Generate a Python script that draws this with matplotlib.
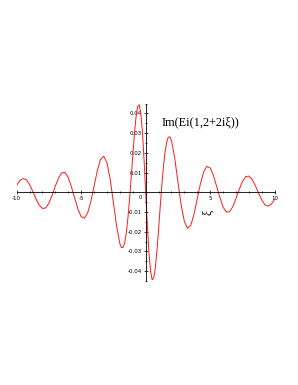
import matplotlib
matplotlib.use("Agg")
import matplotlib.pyplot as plt
from matplotlib.ticker import FixedLocator, MultipleLocator

plt.rcParams['axes.unicode_minus'] = False

# values: Im(Ei(1, 2+2i xi))
xi = [-10.0, -9.75, -9.5, -9.25, -9.0, -8.75, -8.5, -8.25, -8.0, -7.75,
      -7.5, -7.25, -7.0, -6.75, -6.5, -6.25, -6.0, -5.75, -5.5, -5.25,
      -5.0, -4.75, -4.5, -4.25, -4.0, -3.75, -3.5, -3.25, -3.0, -2.75,
      -2.5, -2.25, -2.0, -1.875, -1.75, -1.625, -1.5, -1.375, -1.25, -1.125,
      -1.0, -0.875, -0.75, -0.625, -0.5, -0.375, -0.25, -0.125, 0.0,
      0.125, 0.25, 0.375, 0.5, 0.625, 0.75, 0.875, 1.0,
      1.125, 1.25, 1.375, 1.5, 1.625, 1.75, 1.875, 2.0, 2.25, 2.5,
      2.75, 3.0, 3.25, 3.5, 3.75, 4.0, 4.25, 4.5, 4.75, 5.0,
      5.25, 5.5, 5.75, 6.0, 6.25, 6.5, 6.75, 7.0, 7.25, 7.5,
      7.75, 8.0, 8.25, 8.5, 8.75, 9.0, 9.25, 9.5, 9.75, 10.0]

im_ei = [0.00358, 0.00594, 0.00701, 0.00642, 0.00392, 0.00041, -0.00340, -0.00657, -0.00823, -0.00792,
         -0.00547, -0.00147, 0.00318, 0.00734, 0.00988, 0.01002, 0.00754, 0.00261, -0.00301, -0.00859,
         -0.01235, -0.01316, -0.01047, -0.00462, 0.00318, 0.01100, 0.01670, 0.01836, 0.01490, 0.00649,
         -0.00524, -0.01737, -0.02615, -0.02815, -0.02793, -0.02538, -0.02033, -0.01296, -0.00351, 0.00740,
         0.01864, 0.02944, 0.03811, 0.04356, 0.04443, 0.03987, 0.03038, 0.01637, 0.0,
         -0.01637, -0.03038, -0.03987, -0.04443, -0.04356, -0.03811, -0.02944, -0.01864,
         -0.00740, 0.00351, 0.01296, 0.02033, 0.02538, 0.02793, 0.02815, 0.02615, 0.01737, 0.00524,
         -0.00649, -0.01490, -0.01836, -0.01670, -0.01100, -0.00318, 0.00462, 0.01047, 0.01316, 0.01235,
         0.00859, 0.00301, -0.00261, -0.00754, -0.01002, -0.00988, -0.00734, -0.00318, 0.00147, 0.00547,
         0.00792, 0.00823, 0.00657, 0.00340, -0.00041, -0.00392, -0.00642, -0.00701, -0.00594, -0.00358]

x_ticks = [-10, -5, 5, 10]
x_tick_labels = ['-10', '-5', '5', '10']
y_ticks = [-0.04, -0.03, -0.02, -0.01, 0.01, 0.02, 0.03, 0.04]
y_tick_labels = ['-0.04', '-0.03', '-0.02', '-0.01', '0.01', '0.02', '0.03', '0.04']

fig = plt.figure(figsize=(2.98, 3.85), dpi=100)
ax = fig.add_axes([0.056, 0.2703, 0.8658, 0.4605])

ax.plot(xi, im_ei, color='#ff1a1a', lw=0.7)

ax.set_xlim(-10, 10)
ax.set_ylim(-0.045, 0.045)

# maple style axes through the origin
for side in ['top', 'right']:
    ax.spines[side].set_visible(False)
ax.spines['left'].set_position('zero')
ax.spines['bottom'].set_position('zero')
for side in ['left', 'bottom']:
    ax.spines[side].set_linewidth(0.6)

ax.xaxis.set_major_locator(FixedLocator(x_ticks))
ax.set_xticklabels(x_tick_labels)
ax.xaxis.set_minor_locator(MultipleLocator(1))
ax.yaxis.set_major_locator(FixedLocator(y_ticks))
ax.set_yticklabels(y_tick_labels)
ax.yaxis.set_minor_locator(MultipleLocator(0.005))
ax.tick_params(which='both', direction='inout', length=2.5, width=0.5, labelsize=4, pad=1.5)
ax.tick_params(which='minor', length=2)

# the 0 label sits just left of the y axis
ax.text(-0.25, -0.0012, '0', fontsize=4, ha='right', va='top')

ax.text(0.714, 0.892, 'Im(Ei(1,2+2iξ))', transform=ax.transAxes,
        family='Liberation Serif', fontsize=8.8, ha='center', va='center')
ax.text(0.741, 0.386, 'ξ', transform=ax.transAxes, rotation=90,
        family='Liberation Serif', fontsize=8.5, ha='center', va='center')

plt.savefig('out.png', dpi=100)
